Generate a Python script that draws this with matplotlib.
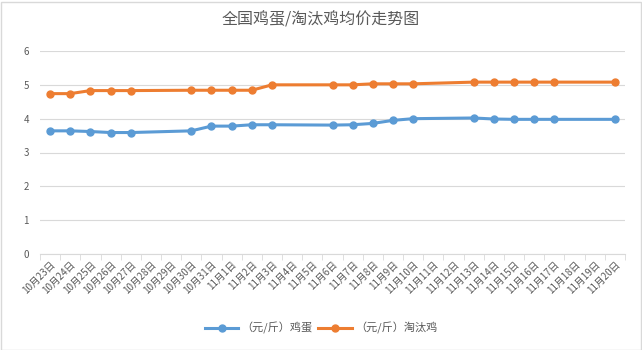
import matplotlib.pyplot as plt
from matplotlib.patches import Rectangle

plt.rcParams['font.family'] = ['Noto Sans CJK SC', 'DejaVu Sans']

# all calendar days on the category axis
days = ['10月23日', '10月24日', '10月25日', '10月26日', '10月27日', '10月28日', '10月29日',
        '10月30日', '10月31日', '11月1日', '11月2日', '11月3日', '11月4日', '11月5日',
        '11月6日', '11月7日', '11月8日', '11月9日', '11月10日', '11月11日', '11月12日',
        '11月13日', '11月14日', '11月15日', '11月16日', '11月17日', '11月18日', '11月19日',
        '11月20日']

# days that have a price
dates = ['10月23日', '10月24日', '10月25日', '10月26日', '10月27日', '10月30日', '10月31日',
         '11月1日', '11月2日', '11月3日', '11月6日', '11月7日', '11月8日', '11月9日',
         '11月10日', '11月13日', '11月14日', '11月15日', '11月16日', '11月17日', '11月20日']
egg = [3.64, 3.64, 3.62, 3.59, 3.59, 3.64, 3.78, 3.78, 3.82, 3.82, 3.81, 3.82, 3.86, 3.95,
       4.00, 4.02, 3.99, 3.98, 3.98, 3.98, 3.98]
hen = [4.74, 4.74, 4.83, 4.83, 4.83, 4.84, 4.84, 4.84, 4.84, 5.00, 5.00, 5.00, 5.03, 5.03,
       5.03, 5.08, 5.08, 5.08, 5.08, 5.08, 5.08]

x = [days.index(d) for d in dates]

fig = plt.figure(figsize=(6.42, 3.5), dpi=100)
ax = fig.add_axes([40 / 642, 96 / 350, 585 / 642, 203 / 350])

ax.plot(x, egg, color='#5B9BD5', lw=2.2, marker='o', ms=5, label='（元/斤）鸡蛋')
ax.plot(x, hen, color='#ED7D31', lw=2.2, marker='o', ms=5, label='（元/斤）淘汰鸡')

ax.set_xlim(-0.5, len(days) - 0.5)
ax.set_ylim(0, 6)
ax.set_yticks(range(7))
ax.grid(axis='y', color='#D9D9D9', lw=0.8)
ax.set_axisbelow(True)

ax.set_xticks(range(len(days)))
ax.set_xticklabels(days, rotation=45, ha='right', rotation_mode='anchor', fontsize=7, color='#595959')
ax.set_xticks([i - 0.5 for i in range(len(days) + 1)], minor=True)
ax.tick_params(axis='x', which='major', length=0, pad=4)
ax.tick_params(axis='x', which='minor', length=4, color='#D9D9D9')
ax.tick_params(axis='y', length=0, labelsize=7, labelcolor='#595959', pad=8)

for s in ['top', 'right', 'left']:
    ax.spines[s].set_visible(False)
ax.spines['bottom'].set_color('#D9D9D9')

fig.text(0.5, 1 - 20 / 350, '全国鸡蛋/淘汰鸡均价走势图', ha='center', va='center',
         fontsize=11.5, color='#595959')
fig.legend(loc='center', bbox_to_anchor=(0.5, 1 - 328 / 350), ncol=2, frameon=False,
           fontsize=8, labelcolor='#595959', handlelength=3, columnspacing=0.5, handletextpad=0.3)

fig.patches.append(Rectangle((0.5 / 642, 0.5 / 350), 640 / 642, 348 / 350, transform=fig.transFigure,
                             fill=False, edgecolor='#D9D9D9', lw=1))

fig.savefig('out.png', dpi=100)
